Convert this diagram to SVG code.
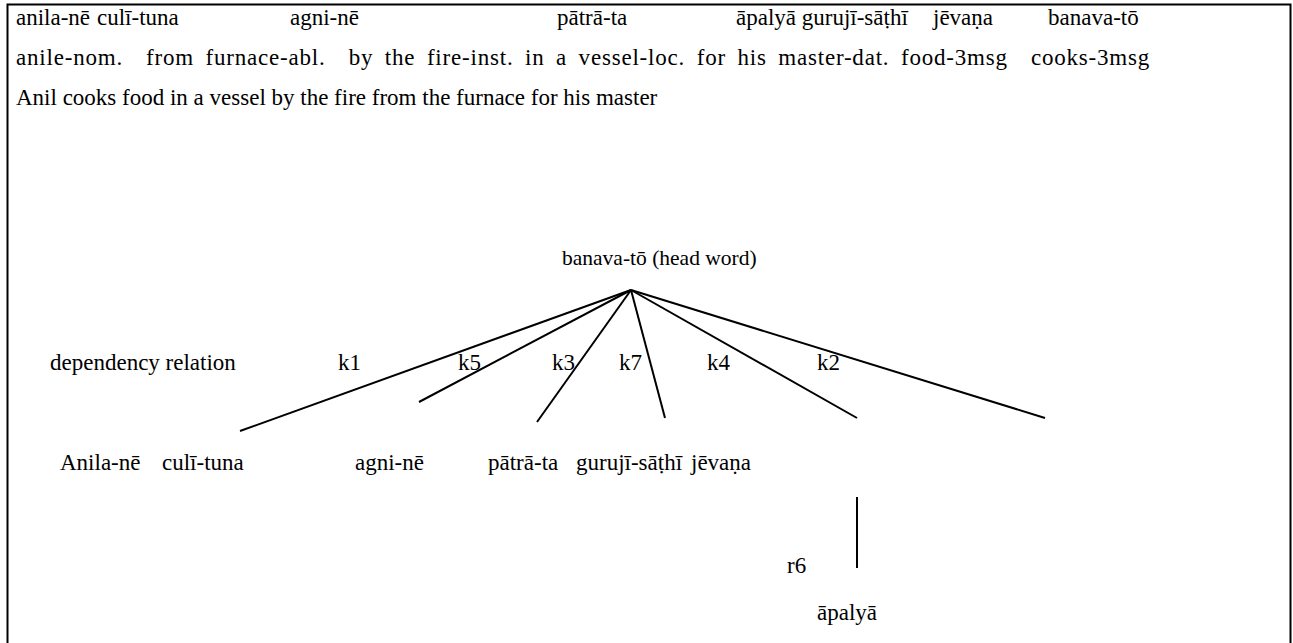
<svg xmlns="http://www.w3.org/2000/svg" width="1293" height="643" viewBox="0 0 1293 643">
<style>
text{font-family:"Liberation Serif","Times New Roman",serif;font-size:23px;fill:#000;white-space:pre}
.gl{letter-spacing:0.8px;word-spacing:5px}
.hd{font-size:21.5px}
.edge{stroke:#000;stroke-width:2;fill:none}
</style>
<rect x="0" y="0" width="1293" height="643" fill="#fff"/>
<path d="M7.5,660 V4.5 H1290.5 V660" fill="none" stroke="#000" stroke-width="2"/>
<g id="gloss">
<text x="16" y="25">anila-nē</text>
<text x="97" y="25">culī-tuna</text>
<text x="290" y="25">agni-nē</text>
<text x="557" y="25">pātrā-ta</text>
<text x="736" y="25">āpalyā gurujī-sāṭhī</text>
<text x="933" y="25">jēvaṇa</text>
<text x="1048" y="25">banava-tō</text>
<text class="gl" x="16" y="65">anile-nom.  from furnace-abl.  by the fire-inst. in a vessel-loc. for his master-dat. food-3msg  cooks-3msg</text>
<text x="16" y="105">Anil cooks food in a vessel by the fire from the furnace for his master</text>
</g>
<g id="head"><text class="hd" x="562" y="265">banava-tō (head word)</text></g>
<g id="labels">
<text x="50" y="370">dependency relation</text>
<text x="338" y="370">k1</text>
<text x="458" y="370">k5</text>
<text x="552" y="370">k3</text>
<text x="619" y="370">k7</text>
<text x="707" y="370">k4</text>
<text x="817" y="370">k2</text>
<text x="787" y="573">r6</text>
</g>
<g id="n-anila"><text x="60" y="470">Anila-nē</text></g>
<g id="n-culi"><text x="162" y="470">culī-tuna</text></g>
<g id="n-agni"><text x="355" y="470">agni-nē</text></g>
<g id="n-patra"><text x="488" y="470">pātrā-ta</text></g>
<g id="n-guruji"><text x="576" y="470">gurujī-sāṭhī</text></g>
<g id="n-jevana"><text x="691" y="470">jēvaṇa</text></g>
<g id="n-apalya"><text x="817" y="620">āpalyā</text></g>
<g id="connectors">
<line class="edge" x1="631" y1="290" x2="240" y2="431"/>
<line class="edge" x1="631" y1="290" x2="419" y2="402"/>
<line class="edge" x1="631" y1="290" x2="537" y2="422"/>
<line class="edge" x1="631" y1="290" x2="665" y2="418"/>
<line class="edge" x1="631" y1="290" x2="857" y2="418"/>
<line class="edge" x1="631" y1="290" x2="1045" y2="418"/>
<line class="edge" x1="857" y1="497" x2="857" y2="568"/>
</g>
</svg>
